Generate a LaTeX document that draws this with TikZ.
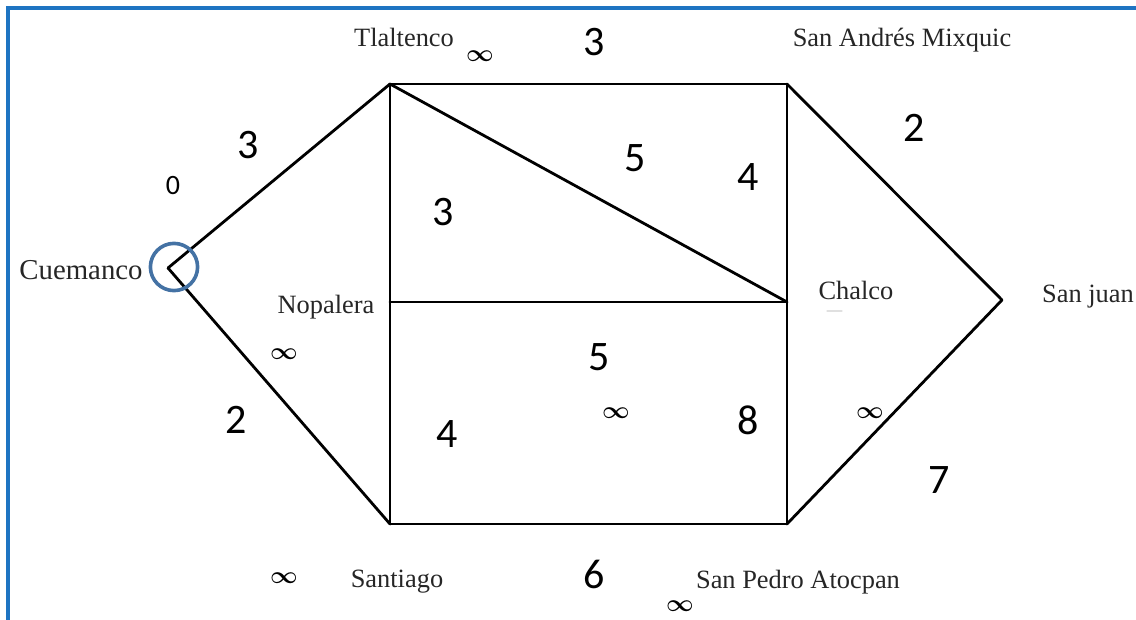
\documentclass[tikz,border=0pt]{standalone}
\usepackage{fontspec}
\setmainfont{Liberation Serif}
\newfontfamily\digitfont{Carlito}
\begin{document}
\begin{tikzpicture}[x=0.5pt, y=-0.5pt, line width=1.4pt, line cap=round,
  place/.style={font=\fontsize{13.2}{15}\selectfont, text=black!85, inner sep=0pt, text depth=0pt},
  weight/.style={font=\digitfont\fontsize{21}{24}\selectfont, inner sep=0pt},
  start/.style={font=\digitfont\fontsize{14}{16}\selectfont, inner sep=0pt},
  inf/.style={font=\boldmath\fontsize{13}{14}\selectfont, inner sep=0pt}]
  \definecolor{frameblue}{HTML}{1E74C2}
  \definecolor{ringblue}{HTML}{4472A4}
  \useasboundingbox (0,0) rectangle (1136,620);

  % ---- frame, open at the right and at the bottom ---------------------------
  \draw[frameblue, line width=1.75pt, line cap=butt] (8,620) -- (8,8) -- (1136,8);

  % ---- the eight places -----------------------------------------------------
  \coordinate (cue) at (168,268);
  \coordinate (tla) at (390,84);
  \coordinate (mix) at (787,84);
  \coordinate (nop) at (390,302);
  \coordinate (cha) at (787,302);
  \coordinate (sju) at (1002,300);
  \coordinate (san) at (390,524);
  \coordinate (spa) at (787,524);

  % ---- roads ----------------------------------------------------------------
  \foreach \a/\b in {cue/tla, cue/san, tla/mix, tla/nop, tla/cha, mix/cha,
                     mix/sju, nop/cha, nop/san, cha/spa, san/spa, spa/sju}{
    \draw (\a) -- (\b);
  }

  % start ring round Cuemanco
  \draw[ringblue, line width=1.8pt] (174,267) circle (11.8pt);

  % ---- place names ----------------------------------------------------------
  \node[place, font=\fontsize{14.4}{16}\selectfont] (lcue) at (81,270) {Cuemanco};
  \node[place] (ltla) at (404,37) {Tlaltenco};
  \node[place] (lmix) at (902,37) {San Andrés Mixquic};
  \node[place] (lnop) at (326,304) {Nopalera};
  \node[place] (lcha) at (856,290) {Chalco};
  \node[place] (lsju) at (1088,294) {San juan};
  \node[place] (lsan) at (397,579) {Santiago};
  \node[place] (lspa) at (798,579) {San Pedro Atocpan};
  \draw[black!12, line width=0.6pt] (827,311) -- (842,311);

  % ---- distances ------------------------------------------------------------
  \node[start]  (w0)  at (173,186) {0};
  \node[weight] (w1)  at (248,145) {3};
  \node[weight] (w2)  at (594,42)  {3};
  \node[weight] (w3)  at (914,128) {2};
  \node[weight] (w4)  at (443,212) {3};
  \node[weight] (w5)  at (635,158) {5};
  \node[weight] (w6)  at (748,177) {4};
  \node[weight] (w7)  at (599,357) {5};
  \node[weight] (w8)  at (447,434) {4};
  \node[weight] (w9)  at (748,420) {8};
  \node[weight] (w10) at (236,420) {2};
  \node[weight] (w11) at (939,480) {7};
  \node[weight] (w12) at (594,574) {6};

  % ---- open labels ----------------------------------------------------------
  \node[inf] (i1) at (480,56)  {$\infty$};
  \node[inf] (i2) at (284,354) {$\infty$};
  \node[inf] (i3) at (616,413) {$\infty$};
  \node[inf] (i4) at (870,413) {$\infty$};
  \node[inf] (i5) at (284,578) {$\infty$};
  \node[inf] (i6) at (680,606) {$\infty$};
\end{tikzpicture}
\end{document}
